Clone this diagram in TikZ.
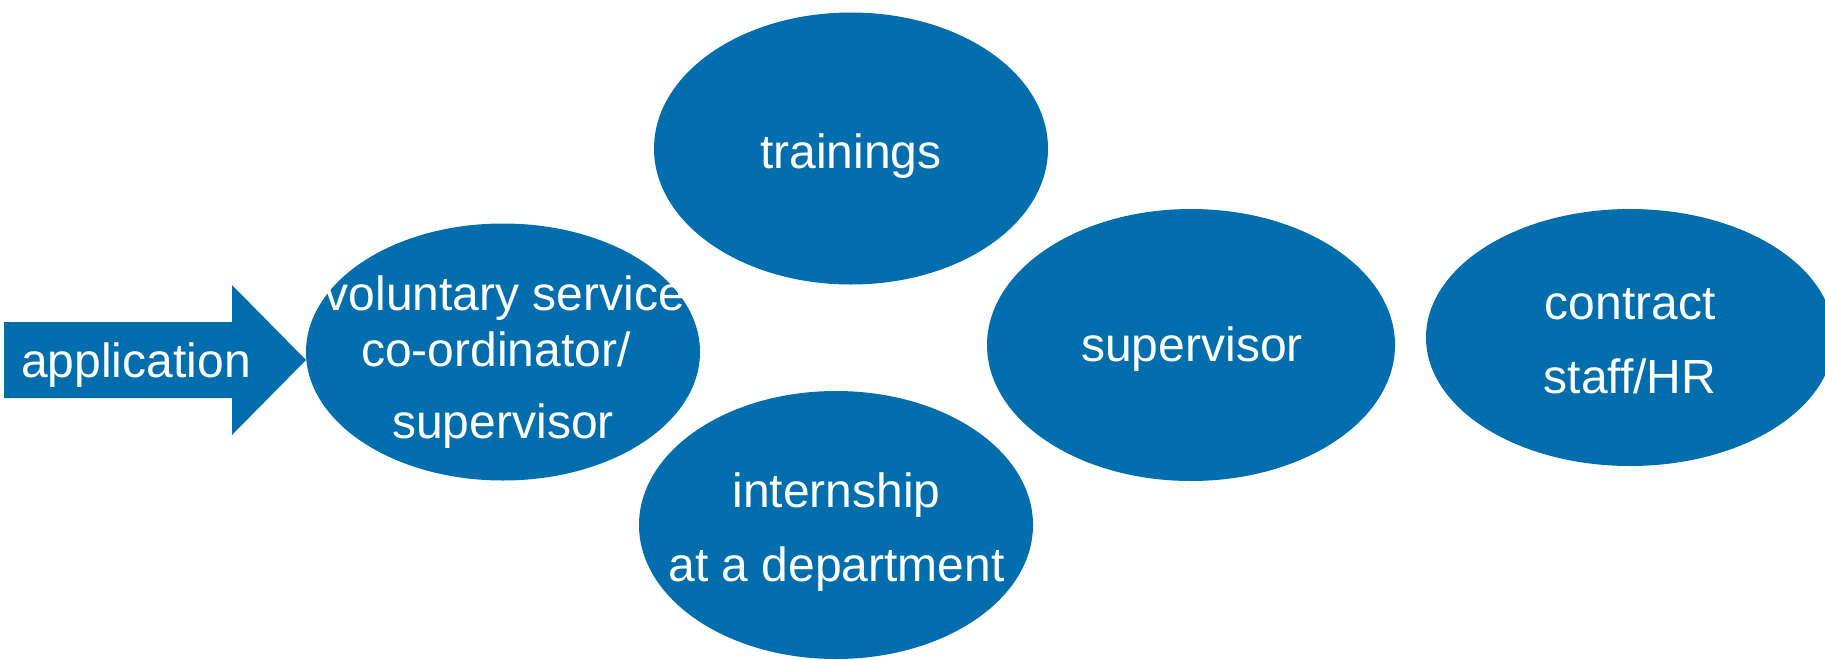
\documentclass[tikz,border=0pt]{standalone}
\usepackage{fontspec}
\setmainfont{Liberation Sans}
\usetikzlibrary{shapes.geometric}
\definecolor{blueF}{RGB}{0,110,173}
\tikzset{
  blob/.style={ellipse, fill=blueF, draw=none, inner sep=0pt},
  lbl/.style={anchor=base, inner sep=0pt, text=white, font=\fontsize{24pt}{28pt}\selectfont},
}
\begin{document}
\begin{tikzpicture}[x=0.5pt, y=-0.5pt]
\useasboundingbox (0,0) rectangle (1825,659);
% arrow
\coordinate (a1) at (4,322);
\coordinate (a2) at (232,322);
\coordinate (a3) at (232,285);
\coordinate (tip) at (306,360);
\coordinate (a5) at (232,435);
\coordinate (a6) at (232,398);
\coordinate (a7) at (4,398);
\fill[blueF] (a1) -- (a2) -- (a3) -- (tip) -- (a5) -- (a6) -- (a7) -- cycle;
\node[lbl] (tapp) at (136,377) {application};
% ellipses
\node[blob, minimum width=197pt, minimum height=128.5pt] (vol) at (503,352) {};
\node[blob, minimum width=197pt, minimum height=136pt] (train) at (851,148.5) {};
\node[blob, minimum width=197pt, minimum height=134pt] (intern) at (836,525) {};
\node[blob, minimum width=204pt, minimum height=136pt] (sup) at (1191,345) {};
\node[blob, minimum width=204pt, minimum height=128.5pt] (contr) at (1630,337.5) {};
% texts
\node[lbl] (tv1) at (505,310) {voluntary service};
\node[lbl] (tv2) at (496,366.5) {co-ordinator/};
\node[lbl] (tv3) at (503,438) {supervisor};
\node[lbl] (tt) at (851,168) {trainings};
\node[lbl] (ti1) at (836.5,507) {internship};
\node[lbl] (ti2) at (836.5,581) {at a department};
\node[lbl] (ts) at (1192,361.5) {supervisor};
\node[lbl] (tc1) at (1630,319.5) {contract};
\node[lbl] (tc2) at (1630,393) {staff/HR};
\end{tikzpicture}
\end{document}
